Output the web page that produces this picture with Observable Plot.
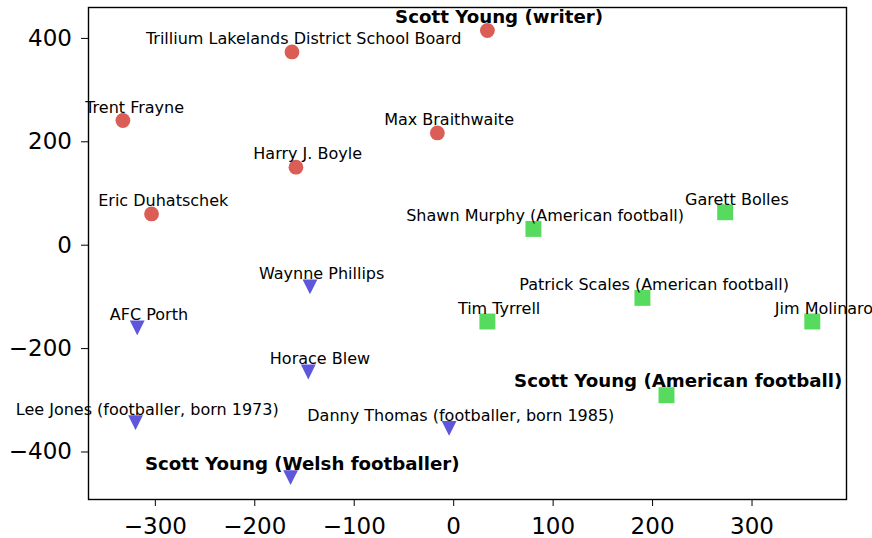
<!DOCTYPE html>
<html>
<head>
<meta charset="utf-8">
<script src="https://cdn.jsdelivr.net/npm/d3@7"></script>
<script src="https://cdn.jsdelivr.net/npm/@observablehq/plot@0.6"></script>
<style>
  html, body { margin: 0; padding: 0; background: #fff; }
  #chart { width: 872px; height: 538px; }
</style>
</head>
<body>
<div id="chart"></div>
<script>
// Group 1: writers (red circles)
const writerNames = ["Trillium Lakelands District School Board", "Trent Frayne", "Eric Duhatschek", "Harry J. Boyle", "Max Braithwaite", "Scott Young (writer)"];
const writerX = [-162.6, -332.6, -303.8, -158.6, -16.4, 33.9];
const writerY = [373.9, 241.2, 60.5, 150.9, 217.2, 415.3];

// Group 2: American football (green squares)
const amfootNames = ["Shawn Murphy (American football)", "Garett Bolles", "Patrick Scales (American football)", "Tim Tyrrell", "Jim Molinaro", "Scott Young (American football)"];
const amfootX = [80.2, 273.0, 189.8, 33.9, 360.6, 214.0];
const amfootY = [31.5, 63.8, -101.9, -147.6, -147.6, -290.1];

// Group 3: Welsh football (blue triangles)
const welshNames = ["Waynne Phillips", "AFC Porth", "Horace Blew", "Lee Jones (footballer, born 1973)", "Danny Thomas (footballer, born 1985)", "Scott Young (Welsh footballer)"];
const welshX = [-144.5, -318.2, -146.2, -319.9, -4.6, -164.0];
const welshY = [-80.6, -159.9, -245.3, -343.3, -354.3, -449.7];

// Highlighted (bold) entities
const highlighted = ["Scott Young (writer)", "Scott Young (American football)", "Scott Young (Welsh footballer)"];

// Axis ticks
const xTicks = [-300, -200, -100, 0, 100, 200, 300];
const yTicks = [-400, -200, 0, 200, 400];

const colors = { writer: "#db5e56", amfoot: "#56db5e", welsh: "#5e56db" };

function build(names, xs, ys, group) {
  return names.map((n, i) => ({ name: n, x: xs[i], y: ys[i], group, bold: highlighted.includes(n) }));
}
const writers = build(writerNames, writerX, writerY, "writer");
const amfoot = build(amfootNames, amfootX, amfootY, "amfoot");
const welsh = build(welshNames, welshX, welshY, "welsh");
const all = [...writers, ...amfoot, ...welsh];

const triangleDown = {
  draw(context, size) {
    const h = Math.sqrt(size / Math.PI);
    context.moveTo(-h, -h);
    context.lineTo(h, -h);
    context.lineTo(0, h);
    context.closePath();
  }
};

const textOpts = {
  x: "x", y: "y", text: "name",
  textAnchor: "middle", lineAnchor: "bottom",
  dx: 11.7, dy: -7.7, fill: "#000"
};

const chart = Plot.plot({
  width: 872,
  height: 538,
  marginLeft: 88,
  marginRight: 26,
  marginTop: 7,
  marginBottom: 39,
  style: { fontFamily: "DejaVu Sans", fontSize: "23px", background: "#fff", color: "#000" },
  x: { domain: [-367.2, 395], ticks: xTicks, tickSize: 7, tickPadding: 11, label: null },
  y: { domain: [-491.9, 459.8], ticks: yTicks, tickSize: 7, tickPadding: 9.5, label: null },
  marks: [
    Plot.frame({ stroke: "#000", strokeWidth: 1.4 }),
    Plot.dot(writers, { x: "x", y: "y", r: 7.4, symbol: "circle", fill: colors.writer, stroke: null }),
    Plot.dot(amfoot, { x: "x", y: "y", r: 9.0, symbol: "square", fill: colors.amfoot, stroke: null }),
    Plot.dot(welsh, { x: "x", y: "y", r: 7.4, symbol: triangleDown, fill: colors.welsh, stroke: null }),
    Plot.text(all.filter(d => !d.bold), { ...textOpts, fontSize: 16 }),
    Plot.text(all.filter(d => d.bold), { ...textOpts, fontSize: 18.2, fontWeight: "bold" })
  ]
});
document.getElementById("chart").append(chart);
</script>
</body>
</html>
